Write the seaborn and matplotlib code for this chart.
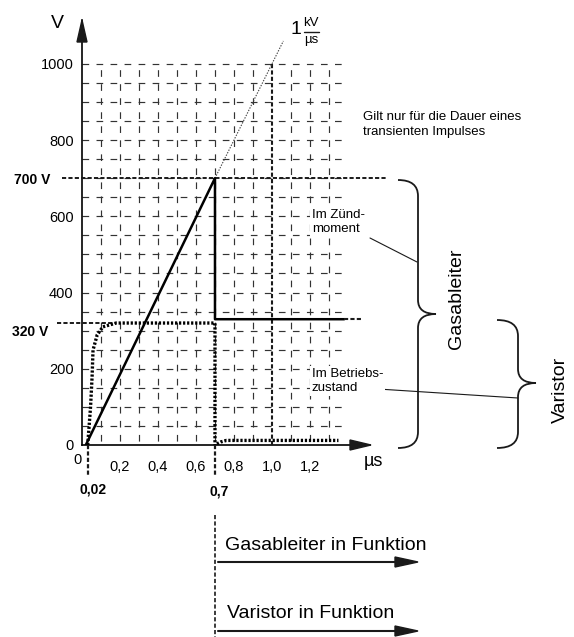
import matplotlib
matplotlib.use("Agg")
import matplotlib.pyplot as plt
import seaborn as sns
from matplotlib.path import Path
from matplotlib.patches import PathPatch, Polygon
from matplotlib.transforms import Affine2D
import matplotlib.lines as mlines

# ---------------- data ----------------
gas_x = [0.02, 0.70, 0.70, 1.38]
gas_y = [0, 700, 330, 330]
gas_ext_x = [1.38, 1.47]
gas_ext_y = [330, 330]
var_x = [0.03, 0.045, 0.053, 0.058, 0.08, 0.11, 0.18, 0.70, 0.70]
var_y = [0, 100, 178, 249, 289, 310, 320, 320, 0]
var_tail_x = [0.71, 0.73, 0.76, 1.35]
var_tail_y = [3, 8, 12, 12]
slope_x = [0.70, 1.06]
slope_y = [700, 1060]
xticks = [0.2, 0.4, 0.6, 0.8, 1.0, 1.2]
xtick_labels = ["0,2", "0,4", "0,6", "0,8", "1,0", "1,2"]
yticks = [0, 200, 400, 600, 800, 1000]
ytick_labels = ["0", "200", "400", "600", "800", "1000"]
grid_x = [0.1, 0.2, 0.3, 0.4, 0.5, 0.6, 0.7, 0.8, 0.9, 1.1, 1.2, 1.3]
grid_y = [50, 100, 150, 200, 250, 300, 350, 400, 450, 500, 550, 600, 650, 700,
          750, 800, 850, 900, 950, 1000]
ignite_v = 700
operate_v = 320
t_var = 0.03
t_switch = 0.7
t_ref = 1.0

# ---------------- style ----------------
sns.set_theme(style="white", rc={"text.color": "black", "xtick.color": "black",
                                 "ytick.color": "black", "axes.labelcolor": "black"})
plt.rcParams["font.family"] = ["Liberation Sans", "DejaVu Sans"]
plt.rcParams["lines.scale_dashes"] = False

W, H = 574, 637
fig = plt.figure(figsize=(W / 100, H / 100), dpi=100)
fig.patch.set_facecolor("white")
ax = fig.add_axes([82 / W, 1 - 445 / H, (370 - 82) / W, (445 - 20) / H])
ax.set_xlim(0, 1.516)
ax.set_ylim(0, 1115)
ax.set_facecolor("none")
px = Affine2D().scale(1 / W, -1 / H).translate(0, 1) + fig.transFigure

for s in ["top", "right"]:
    ax.spines[s].set_visible(False)
for s in ["left", "bottom"]:
    ax.spines[s].set_color("black")
    ax.spines[s].set_linewidth(1.2)

ax.set_xticks(xticks, xtick_labels)
ax.set_yticks(yticks, ytick_labels)
ax.tick_params(axis="x", length=3.6, width=1, direction="out", pad=7, labelsize=10.5)
ax.tick_params(axis="y", length=0, pad=6, labelsize=10.5)

# grid
for gy in grid_y:
    ax.plot([0, 1.38], [gy, gy], color="#333333", lw=0.85, ls=(0, (4.8, 5.3)), zorder=1)
for gx in grid_x:
    ax.plot([gx, gx], [1000, 0], color="#333333", lw=0.85, ls=(6.0, (4.8, 5.3)), zorder=1)

guide = (0, (3, 1.6))
dots = (0, (1.6, 1.3))

# reference lines
ax.plot([-0.105, 1.605], [ignite_v, ignite_v], color="k", lw=1.4, ls=guide, clip_on=False, zorder=3)
ax.plot([-0.13, 0.18], [operate_v, operate_v], color="k", lw=1.4, ls=guide, clip_on=False, zorder=3)
ax.plot([t_ref, t_ref], [1000, 0], color="k", lw=1.5, ls=guide, zorder=3)
ax.plot([t_var, t_var], [0, -80], color="k", lw=1.6, ls=guide, clip_on=False, zorder=3)
ax.plot([t_switch, t_switch], [0, -80], color="k", lw=1.6, ls=guide, clip_on=False, zorder=3)
ax.plot([t_switch, t_switch], [-184, -510], color="k", lw=1.2, ls=guide, clip_on=False, zorder=3)

# slope 1 kV/us
ax.plot(slope_x, slope_y, color="#444444", lw=0.8, ls=(0, (1, 1)), clip_on=False, zorder=3)

# curves
sns.lineplot(x=gas_x, y=gas_y, sort=False, estimator=None, color="black", lw=1.8, ax=ax, zorder=4)
ax.plot(gas_ext_x, gas_ext_y, color="k", lw=1.5, ls=guide, clip_on=False, zorder=4)
sns.lineplot(x=var_x, y=var_y, sort=False, estimator=None, color="black", lw=2.4,
             linestyle=dots, ax=ax, zorder=4)
sns.lineplot(x=var_tail_x, y=var_tail_y, sort=False, estimator=None, color="black", lw=2.4,
             linestyle=dots, ax=ax, zorder=4)

# axis arrows
fig.add_artist(Polygon([(77, 42), (82, 20), (87, 42)], closed=True, color="k", transform=px))
fig.add_artist(Polygon([(350, 440), (371, 445), (350, 450)], closed=True, color="k", transform=px))

# texts
def T(x, y, s, **kw):
    fig.text(x, y, s, transform=px, **kw)

box = dict(boxstyle="square,pad=0.15", fc="white", ec="none")

T(57, 23, "V", fontsize=14, ha="center", va="center")
T(373, 462, "µs", fontsize=13, ha="center", va="center")
T(78, 460, "0", fontsize=10.5, ha="center", va="center")
T(14, 180, "700 V", fontsize=10, fontweight="bold", ha="left", va="center")
T(12, 332, "320 V", fontsize=10, fontweight="bold", ha="left", va="center")
T(93, 489, "0,02", fontsize=10, fontweight="bold", ha="center", va="center")
T(219, 491, "0,7", fontsize=10, fontweight="bold", ha="center", va="center")

T(296, 30, "1", fontsize=14, ha="center", va="center")
T(311, 23, "kV", fontsize=9.5, ha="center", va="center")
fig.add_artist(mlines.Line2D([304, 319], [32, 32], color="k", lw=1.0, transform=px))
T(311, 40, "µs", fontsize=9.5, ha="center", va="center")

T(363, 117, "Gilt nur für die Dauer eines", fontsize=9.5, ha="left", va="center")
T(363, 132, "transienten Impulses", fontsize=9.5, ha="left", va="center")
T(312, 222, "Im Zünd-\nmoment", fontsize=9.5, ha="left", va="center", linespacing=1.15, bbox=box)
T(312, 381, "Im Betriebs-\nzustand", fontsize=9.5, ha="left", va="center", linespacing=1.15, bbox=box)

fig.add_artist(mlines.Line2D([370, 417], [238, 262], color="k", lw=0.8, transform=px))
fig.add_artist(mlines.Line2D([378, 518], [389, 398], color="k", lw=0.8, transform=px))

# braces
def brace(x0, top, mid, bot, tip, end):
    verts = [(end, top), (x0, top), (x0, top + 16),
             (x0, mid - 14), (x0, mid), (tip, mid),
             (tip, mid), (x0, mid), (x0, mid + 14),
             (x0, bot - 16), (x0, bot), (end, bot)]
    codes = [Path.MOVETO, Path.CURVE3, Path.CURVE3,
             Path.LINETO, Path.CURVE3, Path.CURVE3,
             Path.MOVETO, Path.CURVE3, Path.CURVE3,
             Path.LINETO, Path.CURVE3, Path.CURVE3]
    fig.add_artist(PathPatch(Path(verts, codes), fill=False, lw=1.3, color="k", transform=px))

brace(418, 180, 314, 448, 436, 398)
brace(518, 320, 383, 448, 536, 497)
T(457, 299, "Gasableiter", fontsize=14, rotation=90, ha="center", va="center")
T(560, 390, "Varistor", fontsize=14, rotation=90, ha="center", va="center")

# bottom function arrows
T(225, 545, "Gasableiter in Funktion", fontsize=14, ha="left", va="center")
fig.add_artist(mlines.Line2D([218, 397], [562, 562], color="k", lw=1.5, transform=px))
fig.add_artist(Polygon([(395, 557), (418, 562), (395, 567)], closed=True, color="k", transform=px))
T(227, 613, "Varistor in Funktion", fontsize=14, ha="left", va="center")
fig.add_artist(mlines.Line2D([218, 397], [631, 631], color="k", lw=1.5, transform=px))
fig.add_artist(Polygon([(395, 626), (418, 631), (395, 636)], closed=True, color="k", transform=px))

fig.savefig("out.png", dpi=100, facecolor="white")
